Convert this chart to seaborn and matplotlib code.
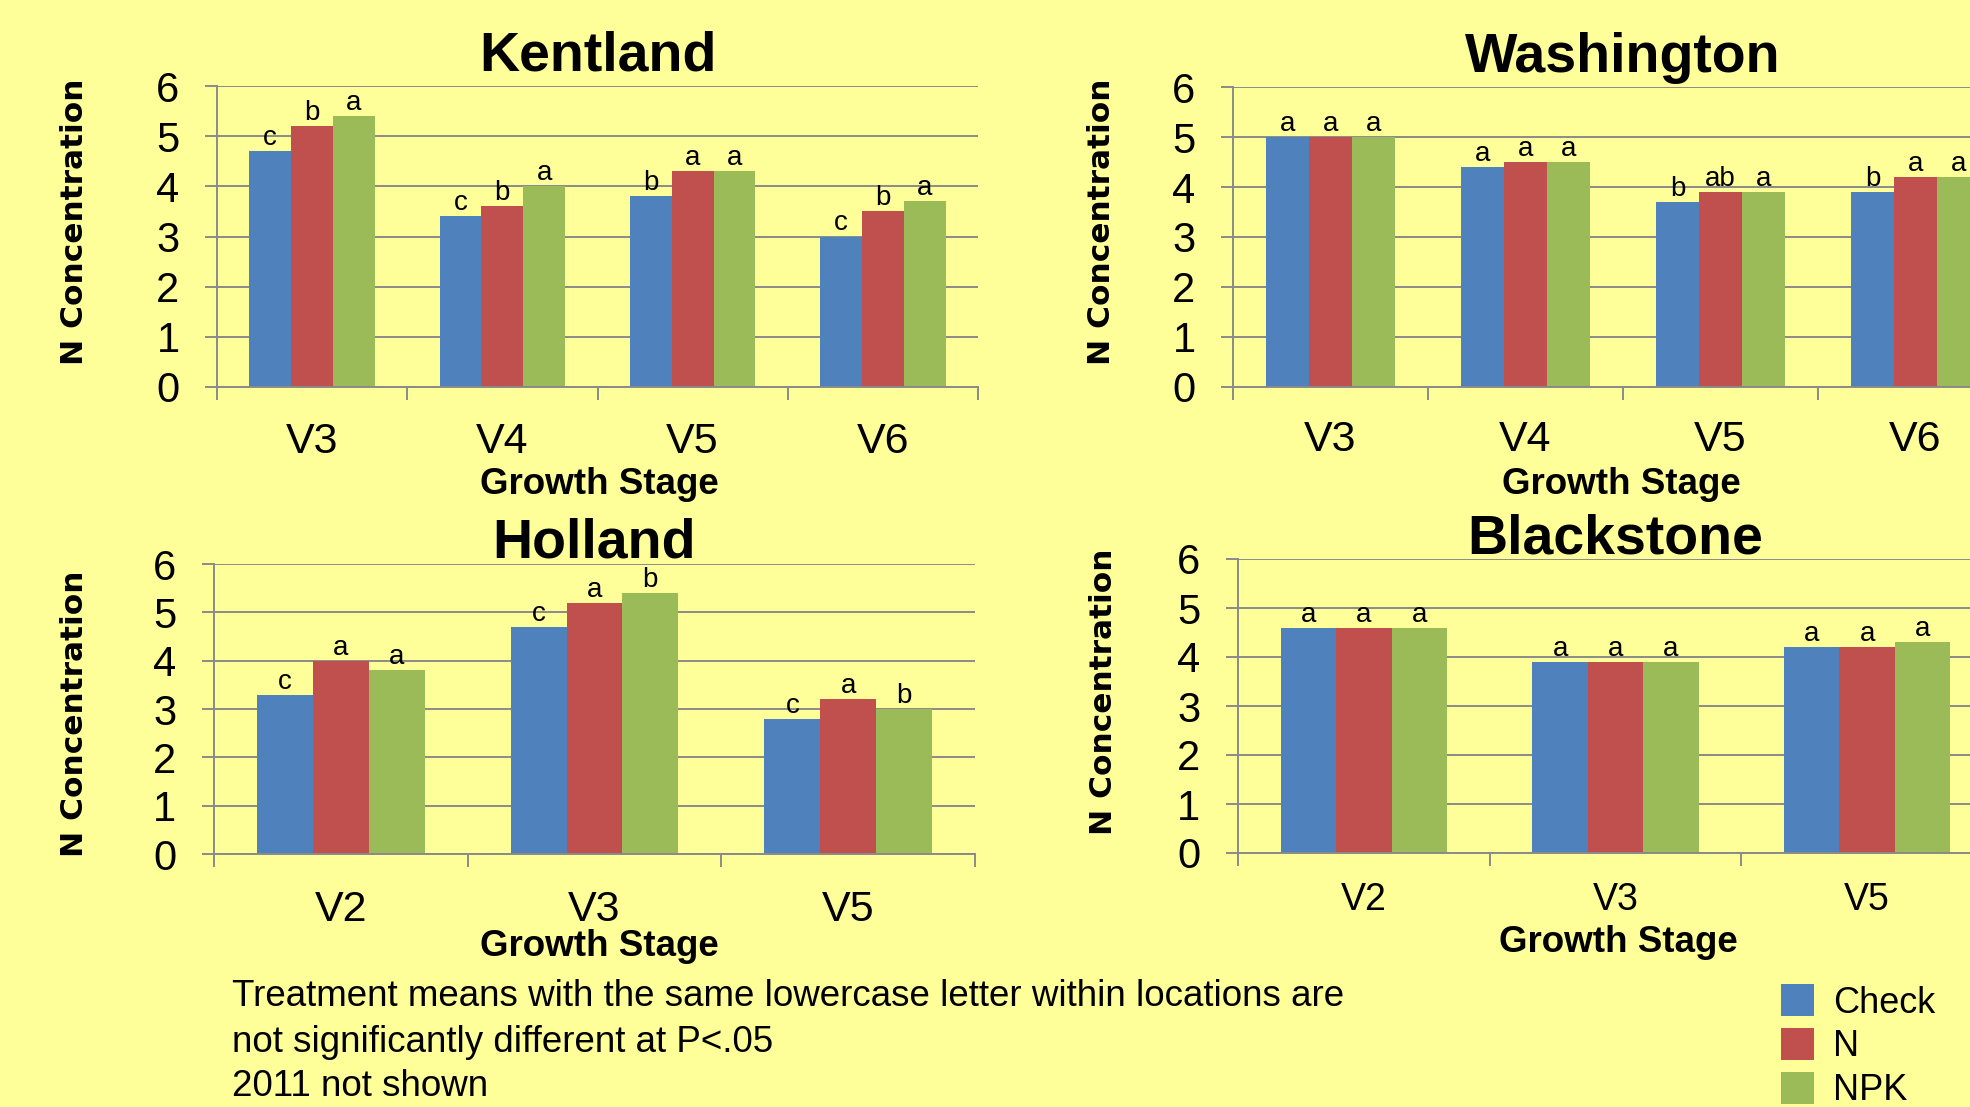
import pandas as pd
import matplotlib.pyplot as plt
import seaborn as sns
from matplotlib.patches import Patch

# treatments and colours
treatments = ["Check", "N", "NPK"]
palette = ["#4F81BD", "#C0504D", "#9BBB59"]

# Kentland
kentland_stages = ["V3", "V4", "V5", "V6"]
kentland_check = [4.7, 3.4, 3.8, 3.0]
kentland_n = [5.2, 3.6, 4.3, 3.5]
kentland_npk = [5.4, 4.0, 4.3, 3.7]
kentland_letters = [["c", "c", "b", "c"], ["b", "b", "a", "b"], ["a", "a", "a", "a"]]

# Washington
washington_stages = ["V3", "V4", "V5", "V6"]
washington_check = [5.0, 4.4, 3.7, 3.9]
washington_n = [5.0, 4.5, 3.9, 4.2]
washington_npk = [5.0, 4.5, 3.9, 4.2]
washington_letters = [["a", "a", "b", "b"], ["a", "a", "ab", "a"], ["a", "a", "a", "a"]]

# Holland
holland_stages = ["V2", "V3", "V5"]
holland_check = [3.3, 4.7, 2.8]
holland_n = [4.0, 5.2, 3.2]
holland_npk = [3.8, 5.4, 3.0]
holland_letters = [["c", "c", "c"], ["a", "a", "a"], ["a", "b", "b"]]

# Blackstone
blackstone_stages = ["V2", "V3", "V5"]
blackstone_check = [4.6, 3.9, 4.2]
blackstone_n = [4.6, 3.9, 4.2]
blackstone_npk = [4.6, 3.9, 4.3]
blackstone_letters = [["a", "a", "a"], ["a", "a", "a"], ["a", "a", "a"]]

footnote = ["Treatment means with the same lowercase letter within locations are",
            "not significantly different at P<.05",
            "2011 not shown"]

W, H = 1970, 1107
BG = "#FFFF99"
GRID = "#8A8A8A"
FONT = "Liberation Sans"


def make_df(stages, check, n, npk):
    rows = []
    for name, vals in zip(treatments, [check, n, npk]):
        for s, v in zip(stages, vals):
            rows.append({"stage": s, "value": v, "treatment": name})
    return pd.DataFrame(rows)


def draw_panel(fig, box, title, df, stages, letters, title_pad, xtick_pad, xtick_size,
               xlabel_xy, ylabel_xy):
    x0, y0, x1, y1 = box
    ax = fig.add_axes([x0 / W, 1 - y1 / H, (x1 - x0) / W, (y1 - y0) / H])
    ax.set_facecolor("none")
    sns.barplot(data=df, x="stage", y="value", hue="treatment", order=stages,
                hue_order=treatments, palette=palette, saturation=1, width=0.66,
                gap=0, linewidth=0, legend=False, errorbar=None, ax=ax)
    for cont, labs in zip(ax.containers, letters):
        ax.bar_label(cont, labels=labs, padding=0, fontsize=20, family=FONT, color="black")

    ax.set_ylim(0, 6)
    ax.set_xlim(-0.5, len(stages) - 0.5)
    ax.set_yticks(range(7))
    ax.set_xticks(range(len(stages)))
    ax.set_xticks([i - 0.5 for i in range(len(stages) + 1)], minor=True)
    ax.grid(axis="y", color=GRID, linewidth=1.4)
    ax.set_axisbelow(True)
    for side in ["top", "right"]:
        ax.spines[side].set_visible(False)
    for side in ["left", "bottom"]:
        ax.spines[side].set_color(GRID)
        ax.spines[side].set_linewidth(1.4)
    ax.tick_params(axis="y", left=True, length=9, width=1.4, color=GRID, pad=18,
                   labelsize=30, labelcolor="black")
    ax.tick_params(axis="x", which="major", bottom=True, length=0, pad=xtick_pad,
                   labelsize=xtick_size, labelcolor="black")
    ax.tick_params(axis="x", which="minor", bottom=True, length=9, width=1.4, color=GRID)
    for lab in ax.get_xticklabels() + ax.get_yticklabels():
        lab.set_family(FONT)

    ax.set_title(title, fontsize=40, fontweight="bold", family=FONT, pad=title_pad,
                 y=1.0, color="black")
    ax.set_xlabel("Growth Stage", fontsize=26.5, fontweight="bold", family=FONT, va="center",
                  color="black")
    ax.xaxis.set_label_coords(xlabel_xy[0] / W, 1 - xlabel_xy[1] / H, transform=fig.transFigure)
    ax.set_ylabel("N Concentration", fontsize=22.5, fontweight="bold", family="DejaVu Sans",
                  va="center", color="black")
    ax.yaxis.set_label_coords(ylabel_xy[0] / W, 1 - ylabel_xy[1] / H, transform=fig.transFigure)
    return ax


sns.set_style("white")
plt.rcParams["font.family"] = [FONT, "DejaVu Sans"]
plt.rcParams["text.color"] = "black"

fig = plt.figure(figsize=(W / 100, H / 100), dpi=100)
fig.patch.set_facecolor(BG)

draw_panel(fig, (217, 86, 978, 387), "Kentland",
           make_df(kentland_stages, kentland_check, kentland_n, kentland_npk),
           kentland_stages, kentland_letters, 11, 25, 31, (599, 485), (75, 222))
draw_panel(fig, (1233, 87, 2013, 387), "Washington",
           make_df(washington_stages, washington_check, washington_n, washington_npk),
           washington_stages, washington_letters, 11, 24, 31, (1621, 484), (1101, 222))
draw_panel(fig, (214, 564, 975, 854), "Holland",
           make_df(holland_stages, holland_check, holland_n, holland_npk),
           holland_stages, holland_letters, 5, 26, 31, (599, 947), (75, 714))
draw_panel(fig, (1238, 559, 1993, 853), "Blackstone",
           make_df(blackstone_stages, blackstone_check, blackstone_n, blackstone_npk),
           blackstone_stages, blackstone_letters, 4, 21, 27, (1618, 942), (1104, 692))

for line, y in zip(footnote, [996, 1042, 1086]):
    fig.text(232 / W, 1 - y / H, line, fontsize=26.5, family=FONT, va="center", ha="left",
             color="black")

handles = [Patch(facecolor=c, edgecolor="none") for c in palette]
fig.legend(handles, treatments, loc="upper left", bbox_to_anchor=(1781 / W, 1 - 984 / H),
           frameon=False, handlelength=0.9, handleheight=1.0,
           handletextpad=0.55, labelspacing=0.2, borderpad=0, borderaxespad=0,
           labelcolor="black", prop={"family": FONT, "size": 26})

fig.savefig("out.png", dpi=100, facecolor=BG)
